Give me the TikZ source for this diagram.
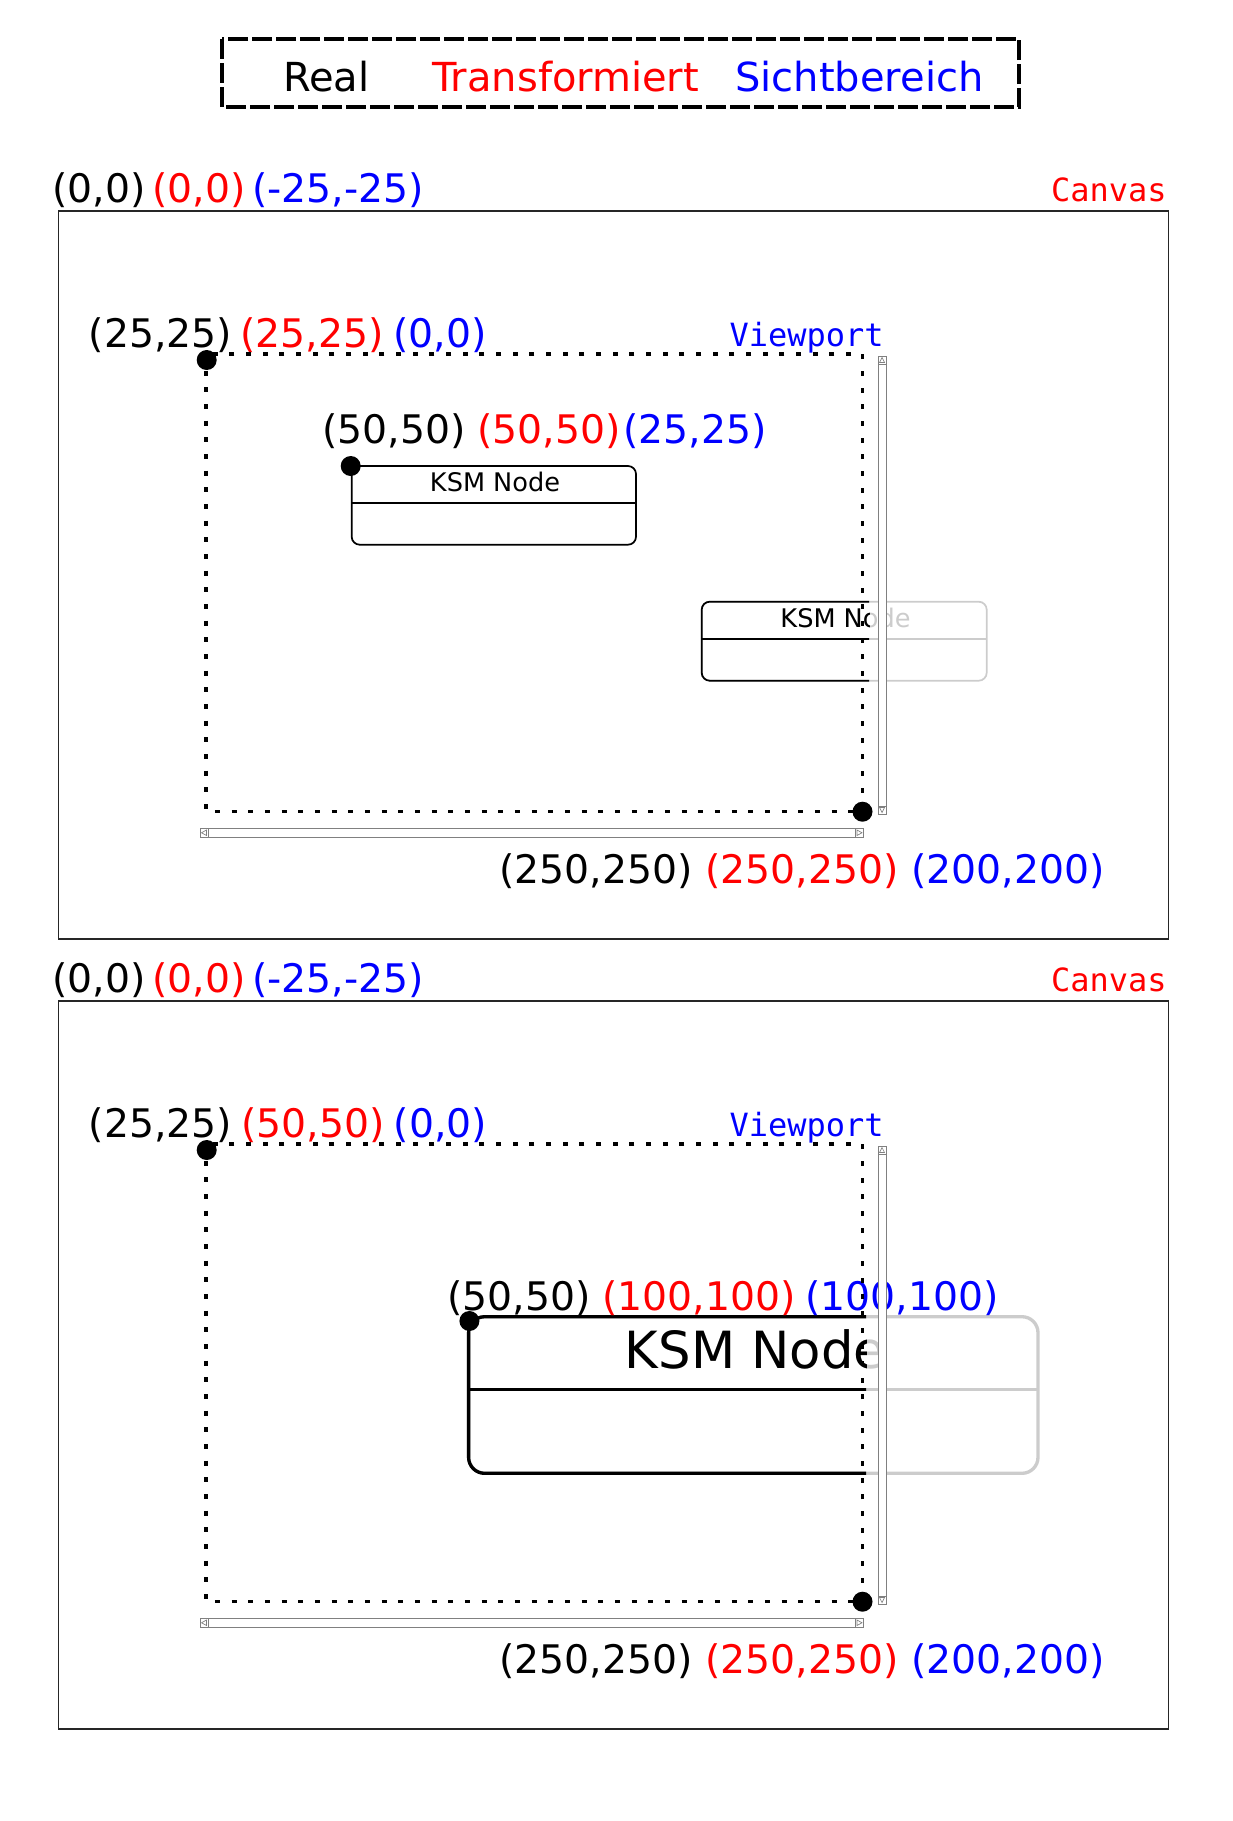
\documentclass[tikz,border=0pt]{standalone}
\usepackage{fontspec}
\setmainfont{DejaVu Sans}
\setmonofont{DejaVu Sans Mono}
\usepackage{xcolor}
\usepackage{tikz}
\usetikzlibrary{positioning}
\definecolor{ghostgray}{RGB}{204,204,204}
\definecolor{barline}{RGB}{128,128,128}

\begin{document}
\begin{tikzpicture}[x=0.75pt,y=0.75pt,yscale=-1,xscale=1,
  lbl/.style={anchor=base west,inner sep=0pt,font=\fontsize{29.5}{34}\selectfont},
  legend/.style={anchor=base west,inner sep=0pt,font=\fontsize{30}{35}\selectfont},
  tag/.style={anchor=base east,inner sep=0pt,font=\ttfamily\fontsize{24}{28}\selectfont},
  frame/.style={draw=black!85,line width=1.3pt},
  viewport/.style={line width=2.4pt,dash pattern=on 3.75pt off 8.75pt},
  ksm/.style={rounded corners=6pt,line width=1.3pt},
  bigksm/.style={rounded corners=12pt,line width=2.5pt},
  bar/.style={draw=barline,line width=0.6pt,fill=white}
]
\useasboundingbox (0,0) rectangle (1232,1821);

%Shape: Legend
\draw [line width=2.4pt,dash pattern=on 15pt off 3pt] (222,39) rectangle (1019,107) ;
% Text Node
\node [legend] (legreal) at (283,91) {Real};
\node [legend,red] (legtrans) at (432,91) {Transformiert};
\node [legend,blue] (legsicht) at (735,91) {Sichtbereich};

%%%%%%%%%%%%%%%%%%%% Canvas 1
%Shape: Rectangle
\draw [frame] (58.5,210.7) rectangle (1168.5,939.3) ;
% Text Node
\node [tag,red] (canvasA) at (1167,201) {Canvas};
\node [lbl] (oreA) at (52,202.5) {(0,0)};
\node [lbl,red] (otrA) at (152,202.5) {(0,0)};
\node [lbl,blue] (osiA) at (252,202.5) {(-25,-25)};
% Text Node
\node [tag,blue] (viewA) at (884,346) {Viewport};
\node [lbl] (vreA) at (88.7,347.3) {(25,25)};
\node [lbl,red] (vtrA) at (240.3,347.3) {(25,25)};
\node [lbl,blue] (vsiA) at (393,347.3) {(0,0)};

%Shape: KSM Node (inside)
\draw [ksm] (351.7,466) rectangle (636,544.7) ;
\draw [line width=1.3pt] (351.7,502.7) -- (636,502.7) ;
\node [anchor=base,inner sep=0pt,font=\fontsize{19.2}{23}\selectfont] (ksmA) at (495,491.7) {KSM Node};
\fill (350.7,466) circle (7.5pt) ;
% Text Node
\node [lbl] (nreA) at (322,443) {(50,50)};
\node [lbl,red] (ntrA) at (477,443) {(50,50)};
\node [lbl,blue] (nsiA) at (623,443) {(25,25)};

%Shape: KSM Node (cut by viewport)
\draw [ksm,ghostgray] (701.7,601.7) rectangle (986.7,680.7) ;
\draw [line width=1.3pt,ghostgray] (701.7,638.7) -- (986.7,638.7) ;
\node [anchor=base,inner sep=0pt,text=ghostgray,font=\fontsize{19.2}{23}\selectfont] (ksmBg) at (845.5,627.4) {KSM Node};
\begin{scope}
\clip (0,560) rectangle (869,720) ;
\draw [ksm] (701.7,601.7) rectangle (986.7,680.7) ;
\draw [line width=1.3pt] (701.7,638.7) -- (986.7,638.7) ;
\node [anchor=base,inner sep=0pt,font=\fontsize{19.2}{23}\selectfont] (ksmB) at (845.5,627.4) {KSM Node};
\end{scope}

%Shape: Viewport
\draw [viewport] (206,354) rectangle (862.5,811.7) ;
\fill (206.7,360) circle (7.5pt) ;
\fill (862.5,811.7) circle (7.5pt) ;
%Shape: Scrollbars
\draw [bar] (878,356) rectangle (886,814) ;
\draw [bar] (878,356) rectangle (886,364) ;
\draw [bar] (878,806) rectangle (886,814) ;
\draw [barline,line width=0.5pt] (879.5,362.5) -- (882,357.5) -- (884.5,362.5) -- cycle ;
\draw [barline,line width=0.5pt] (879.5,807.5) -- (882,812.5) -- (884.5,807.5) -- cycle ;
\draw [bar] (200,828.5) rectangle (863.5,837) ;
\draw [bar] (200,828.5) rectangle (208,837) ;
\draw [bar] (855.5,828.5) rectangle (863.5,837) ;
\draw [barline,line width=0.5pt] (206.5,830) -- (201.5,832.75) -- (206.5,835.5) -- cycle ;
\draw [barline,line width=0.5pt] (857,830) -- (862,832.75) -- (857,835.5) -- cycle ;
% Text Node
\node [lbl] (ereA) at (499,883.3) {(250,250)};
\node [lbl,red] (etrA) at (705,883.3) {(250,250)};
\node [lbl,blue] (esiA) at (911,883.3) {(200,200)};

%%%%%%%%%%%%%%%%%%%% Canvas 2
%Shape: Rectangle
\draw [frame] (58.5,1000.7) rectangle (1168.5,1729.3) ;
% Text Node
\node [tag,red] (canvasB) at (1167,991) {Canvas};
\node [lbl] (oreB) at (52,992.5) {(0,0)};
\node [lbl,red] (otrB) at (152,992.5) {(0,0)};
\node [lbl,blue] (osiB) at (252,992.5) {(-25,-25)};
% Text Node
\node [tag,blue] (viewB) at (884,1136) {Viewport};
\node [lbl] (vreB) at (88.7,1137.3) {(25,25)};
\node [lbl,red] (vtrB) at (241,1137.3) {(50,50)};
\node [lbl,blue] (vsiB) at (393.7,1137.3) {(0,0)};

%Shape: KSM Node (scaled)
\draw [bigksm,ghostgray] (468.6,1316.7) rectangle (1038,1473.3) ;
\draw [line width=2.5pt,ghostgray] (468.6,1389.3) -- (1038,1389.3) ;
\node [anchor=base,inner sep=0pt,text=ghostgray,font=\fontsize{38.4}{46}\selectfont] (ksmCg) at (755,1368) {KSM Node};
\begin{scope}
\clip (0,1290) rectangle (866,1500) ;
\draw [bigksm] (468.6,1316.7) rectangle (1038,1473.3) ;
\draw [line width=2.5pt] (468.6,1389.3) -- (1038,1389.3) ;
\node [anchor=base,inner sep=0pt,font=\fontsize{38.4}{46}\selectfont] (ksmC) at (755,1368) {KSM Node};
\end{scope}
\fill (469.4,1321) circle (7.5pt) ;
% Text Node
\node [lbl] (nreB) at (447,1310.7) {(50,50)};
\node [lbl,red] (ntrB) at (602,1310.7) {(100,100)};
\node [lbl,blue] (nsiB) at (805,1310.7) {(100,100)};

%Shape: Viewport
\draw [viewport] (206,1144) rectangle (862.5,1601.7) ;
\fill (206.7,1150) circle (7.5pt) ;
\fill (862.5,1601.7) circle (7.5pt) ;
%Shape: Scrollbars
\draw [bar] (878,1146) rectangle (886,1604) ;
\draw [bar] (878,1146) rectangle (886,1154) ;
\draw [bar] (878,1596) rectangle (886,1604) ;
\draw [barline,line width=0.5pt] (879.5,1152.5) -- (882,1147.5) -- (884.5,1152.5) -- cycle ;
\draw [barline,line width=0.5pt] (879.5,1597.5) -- (882,1602.5) -- (884.5,1597.5) -- cycle ;
\draw [bar] (200,1618.5) rectangle (863.5,1627) ;
\draw [bar] (200,1618.5) rectangle (208,1627) ;
\draw [bar] (855.5,1618.5) rectangle (863.5,1627) ;
\draw [barline,line width=0.5pt] (206.5,1620) -- (201.5,1622.75) -- (206.5,1625.5) -- cycle ;
\draw [barline,line width=0.5pt] (857,1620) -- (862,1622.75) -- (857,1625.5) -- cycle ;
% Text Node
\node [lbl] (ereB) at (499,1673.3) {(250,250)};
\node [lbl,red] (etrB) at (705,1673.3) {(250,250)};
\node [lbl,blue] (esiB) at (911,1673.3) {(200,200)};

\end{tikzpicture}
\end{document}
